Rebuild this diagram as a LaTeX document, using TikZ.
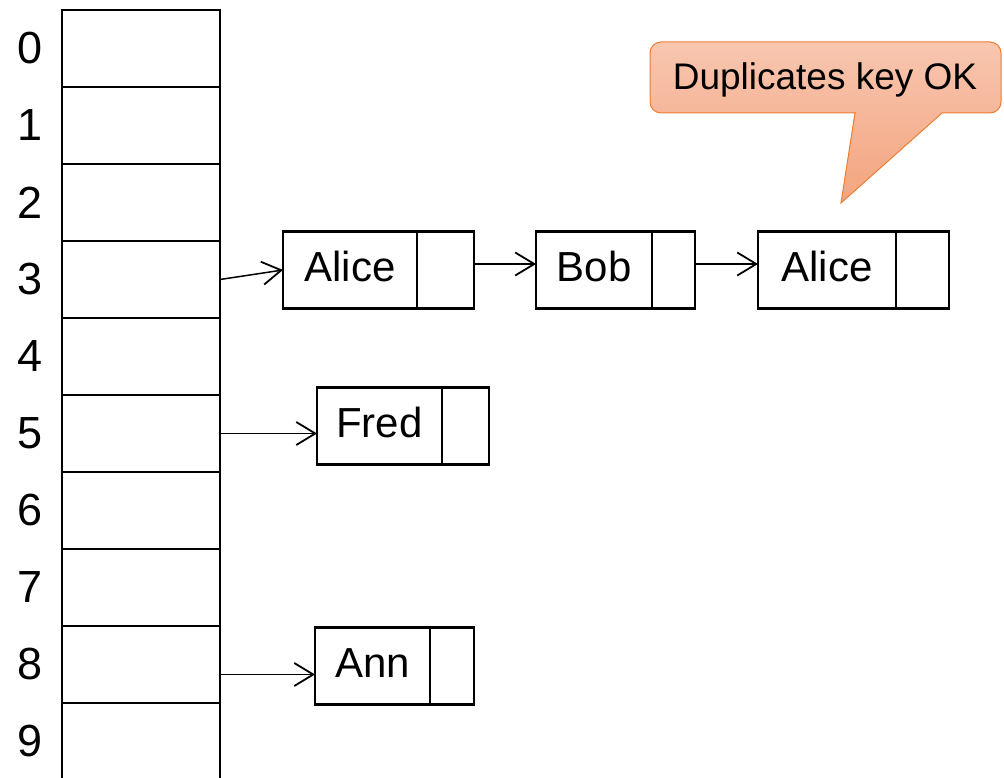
\documentclass[tikz,border=0pt]{standalone}
\usepackage{fontspec}
\setmainfont{Liberation Sans}
\usetikzlibrary{positioning,arrows.meta}
\definecolor{noteTop}{RGB}{248,198,176}
\definecolor{noteBottom}{RGB}{243,164,126}
\definecolor{noteLine}{RGB}{237,125,49}
\tikzset{
	cell/.style={draw, line width=2.3pt, minimum width=158pt, minimum height=77pt, inner sep=0pt, outer sep=0pt},
	idx/.style={inner sep=0pt, font=\fontsize{45}{50}\selectfont},
	keybox/.style={draw, line width=2.4pt, minimum height=77pt, inner sep=0pt, outer sep=0pt, text height=30pt, text depth=8pt, font=\fontsize{42}{48}\selectfont},
	ptrbox/.style={draw, line width=2.4pt, minimum height=77pt, inner sep=0pt, outer sep=0pt},
	link/.style={-{Straight Barb[length=19pt,width=23pt,line width=1.8pt]}, line width=1.5pt},
}

\begin{document}
\begin{tikzpicture}[x=1pt, y=-1pt]
			\useasboundingbox (0,0) rectangle (1004,778);
			% hash table
			\foreach \i in {0,...,9} {
				\node[cell] (r\i) at (141, 48.5+77*\i) {};
				\node[idx, left=19pt of r\i] (l\i) {\i};
			}
			% chain at 3
			\node[keybox, minimum width=134pt] (alice) at (350,270) {Alice};
			\node[ptrbox, minimum width=57pt, right=0pt of alice] (alicep) {};
			\node[keybox, minimum width=116pt, right=62pt of alicep] (bob) {Bob};
			\node[ptrbox, minimum width=43pt, right=0pt of bob] (bobp) {};
			\node[keybox, minimum width=138pt, right=63pt of bobp] (alicetwo) {Alice};
			\node[ptrbox, minimum width=53pt, right=0pt of alicetwo] (alicetwop) {};
			% chain at 5
			\node[keybox, minimum width=125pt] (fred) at (379.5,426) {Fred};
			\node[ptrbox, minimum width=47pt, right=0pt of fred] (fredp) {};
			% chain at 8
			\node[keybox, minimum width=115pt] (ann) at (372.5,666) {Ann};
			\node[ptrbox, minimum width=44pt, right=0pt of ann] (annp) {};
			\draw[link] (r3.east) -- (alice.west);
			\draw[link] ([yshift=6pt]alicep.east) -- ([yshift=6pt]bob.west);
			\draw[link] ([yshift=6pt]bobp.east) -- ([yshift=6pt]alicetwo.west);
			\draw[link] (r5.east) -- (r5.east -| fred.west);
			\draw[link] ([yshift=-10pt]r8.east) -- ([yshift=-10pt]r8.east -| ann.west);
			% callout
			\draw[line width=1pt, draw=noteLine, top color=noteTop, bottom color=noteBottom]
				(855,113) -- (841,203) -- (942,113) -- (950,113) [rounded corners=11pt] -- (1001,113) -- (1001,42) -- (650,42) -- (650,113) -- (845,113) [sharp corners] -- cycle;
			\node[font=\fontsize{37}{40}\selectfont, anchor=base] (dup) at (825,90) {Duplicates key OK};
\end{tikzpicture}
\end{document}
